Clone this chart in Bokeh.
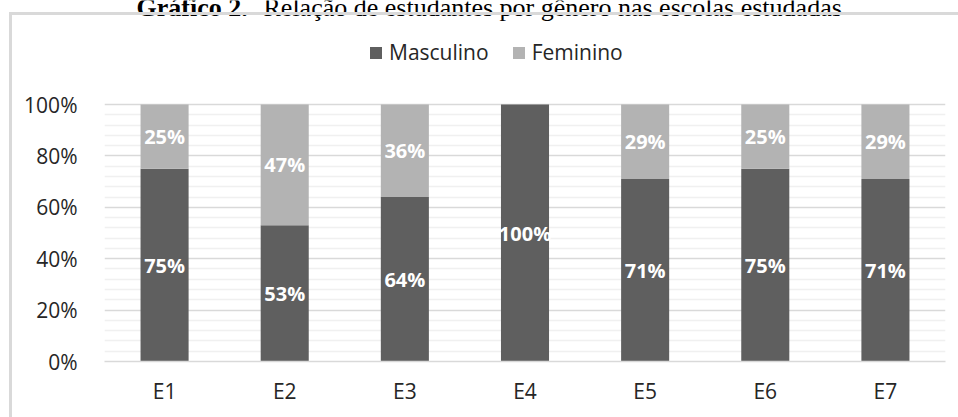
from bokeh.plotting import figure
from bokeh.models import (ColumnDataSource, FactorRange, Range1d, FixedTicker,
                          PrintfTickFormatter, Label, Legend, LegendItem, InlineStyleSheet)
from bokeh.core.properties import value
from bokeh.embed import file_html
from bokeh.resources import INLINE

# Students by gender (%) in each school
escolas = ["E1", "E2", "E3", "E4", "E5", "E6", "E7"]
masculino = [75, 53, 64, 100, 71, 75, 71]
feminino = [25, 47, 36, 0, 29, 25, 29]
series = ["Masculino", "Feminino"]
cores = ["#5f5f5f", "#b3b3b3"]
y_major = [0, 20, 40, 60, 80, 100]
y_minor = [v for v in range(4, 100, 4) if v % 20]

W, H = 958, 417
LEFT, RIGHT, BOTTOM = 104, 13, 56
PX_PER_PCT = 2.57            # vertical pixels per percentage point
FRAME_W = W - LEFT - RIGHT
FRAME_H = H - BOTTOM         # frame runs up to the canvas top


def px_x(px):
    """canvas pixel column -> x data coordinate"""
    return (px - LEFT) / FRAME_W * len(escolas)


def px_y(py):
    """canvas pixel row -> y data coordinate"""
    return (H - BOTTOM - py) / PX_PER_PCT


source = ColumnDataSource(dict(escola=escolas, Masculino=masculino, Feminino=feminino))

p = figure(width=W, height=H, output_backend="svg", toolbar_location=None,
           x_range=FactorRange(*escolas), y_range=Range1d(0, px_y(0)),
           min_border_left=LEFT, min_border_right=RIGHT,
           min_border_top=0, min_border_bottom=BOTTOM)
p.background_fill_color = "white"
p.border_fill_color = "white"
p.outline_line_color = None

# light grey frame drawn around the chart area
p.stylesheets = [InlineStyleSheet(css="""
:host { position: relative; }
:host::after {
  content: ""; position: absolute; left: 9px; top: 12px; right: 0; bottom: 0;
  border-left: 3px solid #d9d9d9; border-top: 3px solid #d9d9d9;
  pointer-events: none;
}
""")]

renderers = p.vbar_stack(series, x="escola", width=0.4, color=cores,
                         line_color=None, source=source)

# gridlines: major every 20 %, minor every 4 %
p.yaxis.ticker = FixedTicker(ticks=y_major, minor_ticks=y_minor)
p.ygrid.grid_line_color = "#d9d9d9"
p.ygrid.grid_line_width = 1.5
p.ygrid.minor_grid_line_color = "#f0f0f0"
p.ygrid.minor_grid_line_width = 1.5
p.xgrid.grid_line_color = None

p.yaxis.formatter = PrintfTickFormatter(format="%d%%")
p.yaxis.axis_line_color = None
p.yaxis.major_tick_line_color = None
p.yaxis.minor_tick_line_color = None
p.yaxis.major_label_standoff = 21

p.xaxis.axis_line_color = "#d9d9d9"
p.xaxis.axis_line_width = 1.5
p.xaxis.major_tick_line_color = None
p.xaxis.minor_tick_line_color = None
p.xaxis.major_label_standoff = 9

for ax in (p.xaxis, p.yaxis):
    ax.major_label_text_font = "Open Sans"
    ax.major_label_text_font_size = "21px"
    ax.major_label_text_color = "#262626"

# value labels centred in each segment
lab_x, lab_y, lab_t = [], [], []
for e, m, f in zip(escolas, masculino, feminino):
    if m > 0:
        lab_x.append(e); lab_y.append(m / 2); lab_t.append(f"{m}%")
    if f > 0:
        lab_x.append(e); lab_y.append(m + f / 2); lab_t.append(f"{f}%")
labels = ColumnDataSource(dict(x=lab_x, y=lab_y, t=lab_t))
p.text(x="x", y="y", text="t", source=labels, text_color="white",
       text_font=value("Open Sans"), text_font_style="bold", text_font_size="20px",
       text_align="center", text_baseline="middle")

legend = Legend(items=[LegendItem(label=s, renderers=[r]) for s, r in zip(series, renderers)],
                orientation="horizontal", location=(264, 295),
                padding=0, margin=0, spacing=22, label_standoff=6,
                glyph_width=15, glyph_height=15,
                border_line_color=None, background_fill_alpha=0,
                label_text_font="Open Sans", label_text_font_size="21px",
                label_text_color="#262626")
p.add_layout(legend, "center")

# caption above the chart area
p.add_layout(Label(x=px_x(136), y=px_y(7), text="Gráfico 2.",
                   text_font="Liberation Serif", text_font_size="26px",
                   text_font_style="bold", text_color="black", text_baseline="alphabetic"))
p.add_layout(Label(x=px_x(263), y=px_y(7),
                   text="Relação de estudantes por gênero nas escolas estudadas",
                   text_font="Liberation Serif", text_font_size="26px",
                   text_color="black", text_baseline="alphabetic"))

open("out.html", "w").write(file_html(p, INLINE))
